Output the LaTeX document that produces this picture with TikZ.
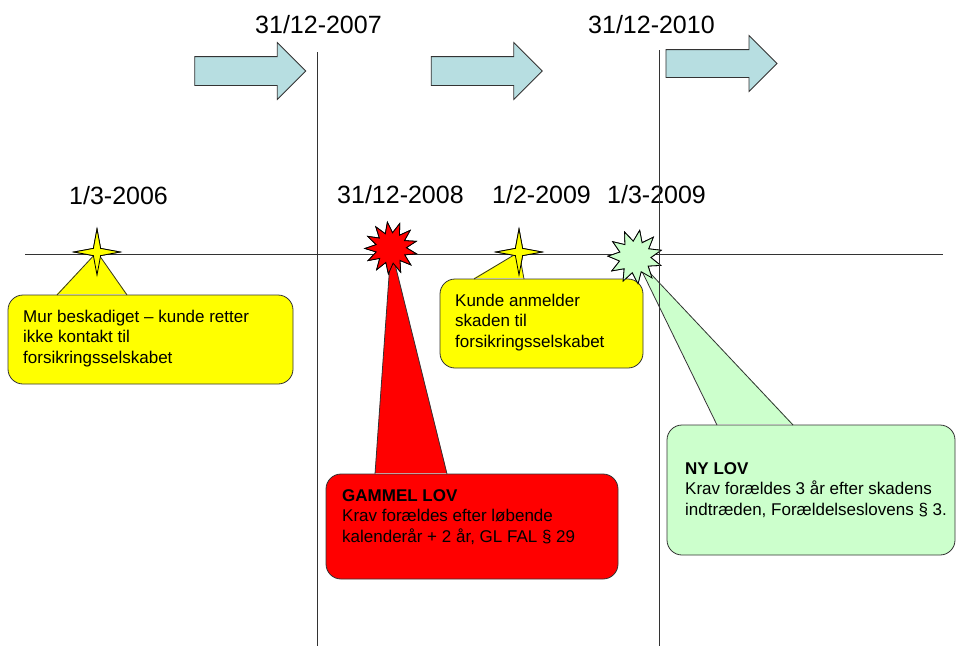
\documentclass[tikz,border=0pt]{standalone}
\usepackage{fontspec}
\setmainfont{Liberation Sans}
\usetikzlibrary{shapes.geometric,shapes.arrows}

\definecolor{arrowblue}{RGB}{183,222,225}
\definecolor{lawgreen}{RGB}{204,255,204}
\definecolor{noteyellow}{RGB}{255,255,0}
\definecolor{lawred}{RGB}{255,0,0}

\begin{document}
\begin{tikzpicture}
    [x=1pt,y=-1pt,
     linestyle/.style={draw=black!80,line width=0.8pt},
     datestyle/.style={anchor=base west,inner sep=0pt,font=\fontsize{25}{30}\selectfont},
     notestyle/.style={anchor=base west,inner sep=0pt,align=left,font=\fontsize{17}{20.4}\selectfont},
     boxstyle/.style={draw=black!80,line width=0.8pt,rounded corners=15pt,inner sep=0pt},
     arrowstyle/.style={single arrow,draw=black!80,fill=arrowblue,line width=0.8pt,inner xsep=0pt,inner ysep=14pt,
       minimum height=111pt,minimum width=56pt,single arrow head extend=14pt},
     starstyle/.style={star,draw=black,line width=0.8pt,inner sep=0pt}]

    \useasboundingbox (0,0) rectangle (957,646);

    % time line
    \coordinate (lstart) at (25,254);
    \coordinate (lend) at (943,254);
    \draw [linestyle] (lstart) -- (lend);

    % arrows at the top
    \node [arrowstyle] (arrowa) at (243,71) {};
    \node [arrowstyle] (arrowb) at (479.5,71) {};
    \node [arrowstyle,inner ysep=13.5pt,minimum width=55pt] (arrowc) at (714.5,63.5) {};

    \node [datestyle] (datea) at (255,33) {31/12-2007};
    \node [datestyle] (dateb) at (588,33) {31/12-2010};
    \node [datestyle] (datec) at (69,204) {1/3-2006};
    \node [datestyle] (dated) at (337,203) {31/12-2008};
    \node [datestyle] (datee) at (492,203) {1/2-2009};
    \node [datestyle] (datef) at (607,203) {1/3-2009};

    % events on the line
    \node [starstyle,fill=noteyellow,star points=4,star point ratio=4.5,minimum size=46pt] (mur) at (97,252) {};
    \node [starstyle,fill=noteyellow,star points=4,star point ratio=4.5,minimum size=46pt] (anmeld) at (519,252) {};
    \node [starstyle,fill=lawred,star points=13,star point ratio=1.7,minimum size=52pt,rotate=8] (gammel) at (391,248) {};
    \node [starstyle,fill=lawgreen,star points=11,star point ratio=1.7,minimum size=54pt,rotate=-10] (ny) at (635,257) {};

    % callouts
    \node [boxstyle,fill=noteyellow,minimum width=285pt,minimum height=89pt] (murbox) at (150.5,339.5) {};
    \coordinate (murl) at (57,295);
    \coordinate (murr) at (127,295);
    \fill [noteyellow] ([yshift=1pt]murl) -- (mur.center) -- ([yshift=1pt]murr) -- cycle;
    \draw [linestyle] (murl) -- (mur.center) -- (murr);
    \node [notestyle] (murtext) at (23,363) {Mur beskadiget -- kunde retter\\ikke kontakt til\\forsikringsselskabet};

    \node [boxstyle,fill=noteyellow,minimum width=203pt,minimum height=89pt] (anmeldbox) at (541.5,323.5) {};
    \coordinate (anmeldl) at (474,279);
    \coordinate (anmeldr) at (524,279);
    \fill [noteyellow] ([yshift=1pt]anmeldl) -- (anmeld.center) -- ([yshift=1pt]anmeldr) -- cycle;
    \draw [linestyle] (anmeldl) -- (anmeld.center) -- (anmeldr);
    \node [notestyle] (anmeldtext) at (455,347) {Kunde anmelder\\skaden til\\forsikringsselskabet};

    \node [boxstyle,fill=lawred,minimum width=292pt,minimum height=105pt] (gammelbox) at (472,526.5) {};
    \coordinate (gammell) at (375,474);
    \coordinate (gammelr) at (447,474);
    \fill [lawred] ([yshift=1pt]gammell) -- (gammel.center) -- ([yshift=1pt]gammelr) -- cycle;
    \draw [linestyle] (gammell) -- (gammel.center) -- (gammelr);
    \node [notestyle] (gammeltext) at (342,542) {\textbf{GAMMEL LOV}\\Krav forældes efter løbende\\kalenderår + 2 år, GL FAL § 29};

    \node [boxstyle,fill=lawgreen,minimum width=288pt,minimum height=130pt] (nybox) at (811,490) {};
    \coordinate (nyl) at (717,425);
    \coordinate (nyr) at (793,425);
    \fill [lawgreen] ([yshift=1pt]nyl) -- (ny.center) -- ([yshift=1pt]nyr) -- cycle;
    \draw [linestyle] (nyl) -- (ny.center) -- (nyr);
    \node [notestyle] (nytext) at (685,515) {\textbf{NY LOV}\\Krav forældes 3 år efter skadens\\indtræden, Forældelseslovens § 3.};

    % redraw the stars over the pointers
    \node [starstyle,fill=noteyellow,star points=4,star point ratio=4.5,minimum size=46pt] at (mur) {};
    \node [starstyle,fill=noteyellow,star points=4,star point ratio=4.5,minimum size=46pt] at (anmeld) {};
    \node [starstyle,fill=lawred,star points=13,star point ratio=1.7,minimum size=52pt,rotate=8] at (gammel) {};
    \node [starstyle,fill=lawgreen,star points=11,star point ratio=1.7,minimum size=54pt,rotate=-10] at (ny) {};

    % year ends
    \coordinate (cuta) at (317,52);
    \coordinate (cutb) at (317,646);
    \coordinate (cutc) at (659,50);
    \coordinate (cutd) at (659,646);
    \draw [linestyle] (cuta) -- (cutb);
    \draw [linestyle] (cutc) -- (cutd);
  \end{tikzpicture}
\end{document}
